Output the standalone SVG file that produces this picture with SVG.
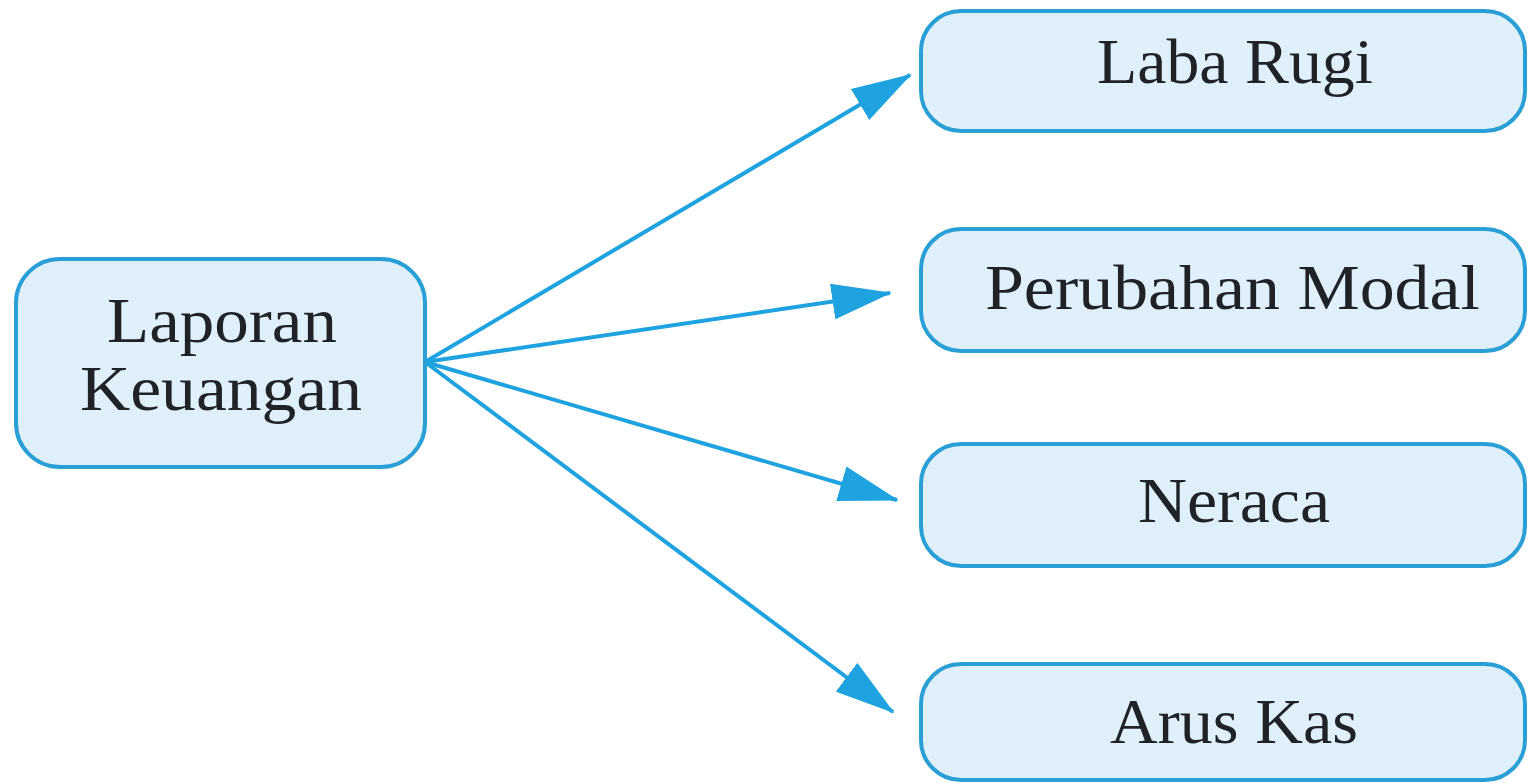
<svg xmlns="http://www.w3.org/2000/svg" width="1528" height="783" viewBox="0 0 1528 783">
<style>
.box{fill:#e0f0fb;stroke:#2a9fd6;stroke-width:4}
.lbl{font-family:"Liberation Serif","Times New Roman",serif;font-size:63px;fill:#1f2328}
.conn{stroke:#1ea3e0;stroke-width:4;fill:none}
</style>
<defs>
<marker id="ah" viewBox="0 0 60 36" refX="58" refY="18" markerWidth="60" markerHeight="36" markerUnits="userSpaceOnUse" orient="auto">
<path d="M0,0 L60,18 L0,36 Z" fill="#1ea3e0"/>
</marker>
</defs>
<rect width="1528" height="783" fill="#ffffff"/>
<g id="connectors">
<line class="conn" x1="425" y1="362" x2="910" y2="75" marker-end="url(#ah)"/>
<line class="conn" x1="425" y1="362" x2="890" y2="293" marker-end="url(#ah)"/>
<line class="conn" x1="425" y1="362" x2="897" y2="500" marker-end="url(#ah)"/>
<line class="conn" x1="425" y1="362" x2="893" y2="712" marker-end="url(#ah)"/>
</g>
<g id="laporan">
<rect class="box" x="16" y="259" width="409" height="208" rx="44"/>
<text class="lbl" x="107" y="342" textLength="230" lengthAdjust="spacingAndGlyphs">Laporan</text>
<text class="lbl" x="80" y="410" textLength="282" lengthAdjust="spacingAndGlyphs">Keuangan</text>
</g>
<g id="laba-rugi">
<rect class="box" x="921" y="11" width="604" height="120" rx="40"/>
<text class="lbl" x="1097" y="83" textLength="276" lengthAdjust="spacingAndGlyphs">Laba Rugi</text>
</g>
<g id="perubahan-modal">
<rect class="box" x="921" y="229" width="604" height="122" rx="40"/>
<text class="lbl" x="985" y="309" textLength="495" lengthAdjust="spacingAndGlyphs">Perubahan Modal</text>
</g>
<g id="neraca">
<rect class="box" x="921" y="444" width="604" height="122" rx="40"/>
<text class="lbl" x="1138" y="522" textLength="192" lengthAdjust="spacingAndGlyphs">Neraca</text>
</g>
<g id="arus-kas">
<rect class="box" x="921" y="664" width="604" height="116" rx="40"/>
<text class="lbl" x="1110" y="743" textLength="248" lengthAdjust="spacingAndGlyphs">Arus Kas</text>
</g>
</svg>
